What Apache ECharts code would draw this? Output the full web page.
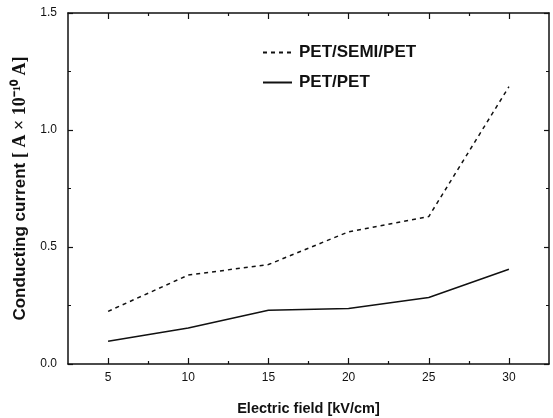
<!DOCTYPE html>
<html>
<head>
<meta charset="utf-8">
<script src="https://cdn.jsdelivr.net/npm/echarts@6/dist/echarts.min.js"></script>
<style>
  html, body { margin: 0; padding: 0; background: #fff; }
  #chart { width: 553px; height: 418px; }
</style>
</head>
<body>
<div id="chart"></div>
<script>
// values
const fields = [5, 10, 15, 20, 25, 30];
const semiCurrent = [0.225, 0.38, 0.425, 0.565, 0.63, 1.185];
const petCurrent = [0.097, 0.154, 0.23, 0.237, 0.284, 0.405];
const xMajorTicks = [5, 10, 15, 20, 25, 30];
const xMinorTicks = [7.5, 12.5, 17.5, 22.5, 27.5];

const font = 'Liberation Sans, Arial, sans-serif';
const black = '#111';

function pairs(xs, ys) {
  return xs.map((x, i) => [x, ys[i]]);
}

function xAxis(position, ticks, len, opts) {
  return Object.assign({
    type: 'value',
    position: position,
    min: 2.5,
    max: 32.5,
    axisLine: { show: true, lineStyle: { color: black, width: 1.5 } },
    axisTick: { show: true, inside: true, length: len, customValues: ticks, lineStyle: { color: black, width: 1.2 } },
    axisLabel: { show: false },
    splitLine: { show: false }
  }, opts || {});
}

function yAxis(position, showLabel, opts) {
  return Object.assign({
    type: 'value',
    position: position,
    min: 0,
    max: 1.5,
    interval: 0.5,
    axisLine: { show: true, lineStyle: { color: black, width: 1.5 } },
    axisTick: { show: true, inside: true, length: 5, lineStyle: { color: black, width: 1.2 } },
    minorTick: { show: true, splitNumber: 2, length: 3, lineStyle: { color: black } },
    axisLabel: {
      show: showLabel,
      margin: 11,
      fontFamily: font,
      fontSize: 12,
      color: black,
      formatter: (v) => v.toFixed(1)
    },
    splitLine: { show: false },
    minorSplitLine: { show: false }
  }, opts || {});
}

const chart = echarts.init(document.getElementById('chart'));
chart.setOption({
  animation: false,
  backgroundColor: '#fff',
  grid: { left: 68, right: 4, top: 13, bottom: 54, outerBoundsMode: 'none' },
  legend: {
    left: 257,
    top: 39,
    orient: 'vertical',
    itemWidth: 29,
    itemHeight: 14,
    itemGap: 13,
    itemStyle: { opacity: 0 },
    textStyle: { fontFamily: font, fontSize: 17, fontWeight: 'bold', color: black, padding: [0, 0, 0, 2] },
    data: ['PET/SEMI/PET', 'PET/PET']
  },
  xAxis: [
    xAxis('bottom', xMajorTicks, 6, {
      name: 'Electric field [kV/cm]',
      nameLocation: 'middle',
      nameGap: 37,
      nameTextStyle: { fontFamily: font, fontSize: 14.5, fontWeight: 'bold', color: black },
      axisLabel: {
        show: true,
        customValues: xMajorTicks,
        margin: 8,
        fontFamily: font,
        fontSize: 12,
        color: black
      }
    }),
    xAxis('bottom', xMinorTicks, 3, { axisLine: { show: false } }),
    xAxis('top', xMajorTicks, 6),
    xAxis('top', xMinorTicks, 3, { axisLine: { show: false } })
  ],
  yAxis: [
    yAxis('left', true, {
      name: '{a|Conducting current }{b|[ A × 10⁻¹⁰ A]}',
      nameLocation: 'middle',
      nameRotate: 90,
      nameGap: 35,
      nameTextStyle: {
        rich: {
          a: { fontFamily: font, fontSize: 17, fontWeight: 'bold', color: black },
          b: { fontFamily: 'Liberation Serif, Times New Roman, serif', fontSize: 18, fontWeight: 'bold', color: black }
        }
      }
    }),
    yAxis('right', false)
  ],
  series: [
    {
      name: 'PET/SEMI/PET',
      type: 'line',
      xAxisIndex: 0,
      yAxisIndex: 0,
      showSymbol: false,
      symbol: 'none',
      lineStyle: { color: black, width: 1.5, type: [4, 4] },
      itemStyle: { color: black },
      data: pairs(fields, semiCurrent)
    },
    {
      name: 'PET/PET',
      type: 'line',
      xAxisIndex: 0,
      yAxisIndex: 0,
      showSymbol: false,
      symbol: 'none',
      lineStyle: { color: black, width: 1.5 },
      itemStyle: { color: black },
      data: pairs(fields, petCurrent)
    }
  ]
});
</script>
</body>
</html>
